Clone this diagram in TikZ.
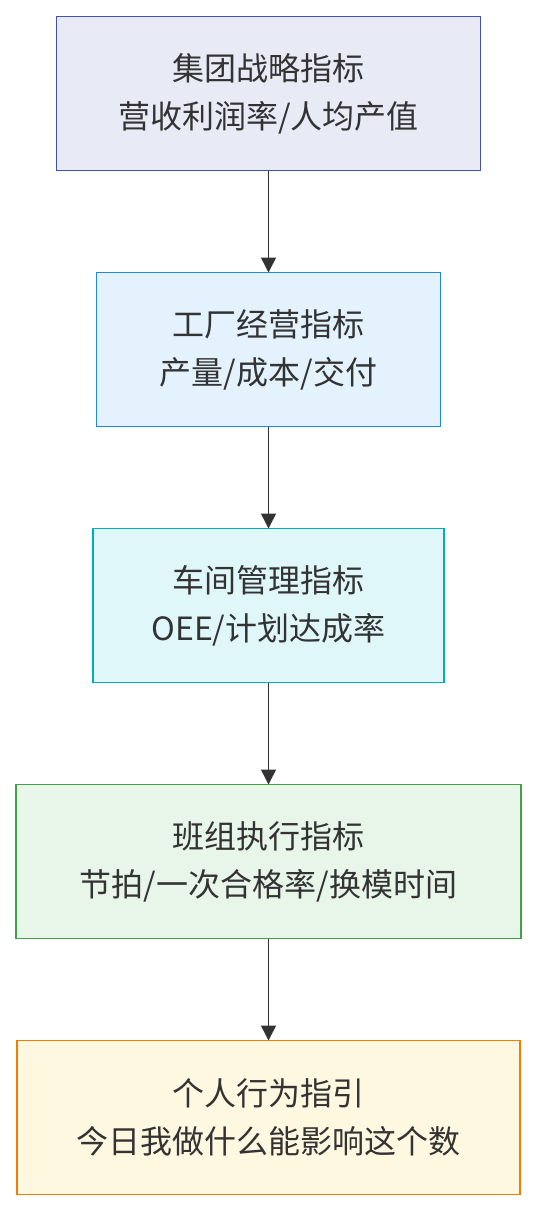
\documentclass[tikz,border=0pt]{standalone}
\usepackage{fontspec}
\setmainfont{Noto Sans CJK SC}
\usetikzlibrary{shapes,arrows,arrows.meta,positioning,calc}
\definecolor{txt}{HTML}{333333}
\definecolor{groupfill}{HTML}{E8EAF6}\definecolor{groupline}{HTML}{3F51B5}
\definecolor{plantfill}{HTML}{E3F2FD}\definecolor{plantline}{HTML}{1E88E5}
\definecolor{shopfill}{HTML}{E0F7FA}\definecolor{shopline}{HTML}{00ACC1}
\definecolor{teamfill}{HTML}{E8F5E9}\definecolor{teamline}{HTML}{43A047}
\definecolor{selffill}{HTML}{FFF8E1}\definecolor{selfline}{HTML}{F57C00}

\begin{document}
\begin{tikzpicture}[
    x=1pt, y=1pt,
    node distance=102pt,
    box/.style={rectangle, draw, line width=1.5pt, minimum height=154pt, align=center, text=txt,
      font=\fontsize{32}{48}\selectfont, inner sep=0pt, outer sep=0pt},
    arrow/.style={-{Triangle[length=15pt,width=15pt]}, line width=1.5pt, draw=txt}
]
\useasboundingbox (0,0) rectangle (537,-1212);
\node[box, fill=groupfill, draw=groupline, minimum width=424pt] (group) at (268.5,-93.5) {集团战略指标\\营收利润率/人均产值};
\node[box, fill=plantfill, draw=plantline, minimum width=344pt, below=of group] (plant) {工厂经营指标\\产量/成本/交付};
\node[box, fill=shopfill, draw=shopline, minimum width=351pt, below=of plant] (shop) {车间管理指标\\OEE/计划达成率};
\node[box, fill=teamfill, draw=teamline, minimum width=505pt, below=of shop] (team) {班组执行指标\\节拍/一次合格率/换模时间};
\node[box, fill=selffill, draw=selfline, minimum width=503pt, below=of team] (self) {个人行为指引\\今日我做什么能影响这个数};

\draw[arrow] (group) -- (plant);
\draw[arrow] (plant) -- (shop);
\draw[arrow] (shop) -- (team);
\draw[arrow] (team) -- (self);
\end{tikzpicture}
\end{document}
